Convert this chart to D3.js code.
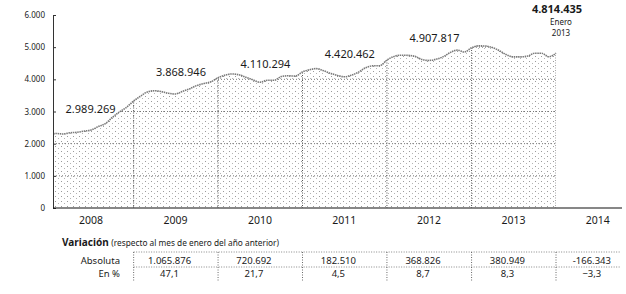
<!DOCTYPE html>
<html>
<head>
<meta charset="utf-8">
<script src="https://cdn.jsdelivr.net/npm/d3@7"></script>
<style>
  body { margin: 0; background: #fff; }
  svg text { font-family: "Noto Sans", sans-serif; fill: #1a1a1a; }
</style>
</head>
<body>
<svg id="plot" width="626" height="294"></svg>
<script>
// paro registrado, enero 2008 - enero 2014 (mensual)
const paro = [
  2261925, 2315331, 2300975, 2338517, 2352942, 2390403, 2426185, 2530001, 2625368, 2818026, 2989269, 3128963,
  3327801, 3481859, 3605402, 3644041, 3620139, 3564889, 3544873, 3629080, 3709447, 3808353, 3868946, 3923603,
  4048493, 4130625, 4166613, 4142425, 4066202, 3982368, 3908221, 3969661, 3972483, 4085976, 4110294, 4100073,
  4231003, 4299263, 4333669, 4269360, 4189659, 4121801, 4079742, 4130927, 4226744, 4360926, 4420462, 4422359,
  4599829, 4712098, 4750867, 4744235, 4714122, 4615269, 4587455, 4625634, 4705279, 4833521, 4907817, 4848723,
  4980778, 5040222, 5035243, 4989193, 4890928, 4763680, 4698814, 4698783, 4724355, 4811383, 4808908, 4701338,
  4814435
];
const years = [2008, 2009, 2010, 2011, 2012, 2013, 2014];
const yTicks = [0, 1000, 2000, 3000, 4000, 5000, 6000];
const labelMonths = [10, 22, 34, 46, 58];   // noviembre de cada año
const varYears = [2009, 2010, 2011, 2012, 2013, 2014];
const varAbs = [1065876, 720692, 182510, 368826, 380949, -166343];
const varPct = [47.1, 21.7, 4.5, 8.7, 8.3, -3.3];

const data = paro.map((v, i) => ({ date: new Date(2008, i, 1), value: v / 1000 }));

const es = d3.formatLocale({ decimal: ",", thousands: ".", grouping: [3], currency: ["", "€"], minus: "-" });
const fmtInt = es.format(",d");
const fmtPct = d3.formatLocale({ decimal: ",", thousands: ".", grouping: [3], currency: ["", "€"], minus: "\u2212" }).format(".1f");

const plot = d3.select('#plot');

const x0 = 53, yBase = 208;

const xScale = d3.scaleTime()
  .domain([new Date(2008, 0, 1), new Date(2014, 0, 1)])
  .range([49, 556]);

const yScale = d3.scaleLinear()
  .domain([0, 6000])
  .range([yBase, 15]);

// dotted fill
const defs = plot.append('defs');
const pat = defs.append('pattern')
  .attr('id', 'dots')
  .attr('patternUnits', 'userSpaceOnUse')
  .attr('width', 6).attr('height', 5);
pat.append('rect').attr('width', 6).attr('height', 5).attr('fill', '#fff');
pat.append('rect').attr('x', 1).attr('y', 1).attr('width', 1).attr('height', 1).attr('fill', '#9a9a9a');
pat.append('rect').attr('x', 4).attr('y', 3).attr('width', 1).attr('height', 1).attr('fill', '#b4b4b4');

const area = d3.area()
  .x(d => xScale(d.date))
  .y0(yBase)
  .y1(d => yScale(d.value))
  .curve(d3.curveMonotoneX);

const line = d3.line()
  .x(d => xScale(d.date))
  .y(d => yScale(d.value))
  .curve(d3.curveMonotoneX);

defs.append('clipPath').attr('id', 'areaClip')
  .append('path')
  .attr('d', area(data));

defs.append('clipPath').attr('id', 'leftClip')
  .append('rect')
  .attr('x', x0).attr('y', 0).attr('width', 626).attr('height', 294);

const chart = plot.append('g').attr('clip-path', 'url(#leftClip)');

chart.append('path')
  .attr('d', area(data))
  .attr('fill', 'url(#dots)');

// grid inside the area
const grid = chart.append('g').attr('clip-path', 'url(#areaClip)');
grid.selectAll('.hgrid')
  .data(yTicks.filter(t => t > 0))
  .join('line')
  .attr('x1', x0).attr('x2', 560)
  .attr('y1', d => yScale(d)).attr('y2', d => yScale(d))
  .attr('stroke', '#555')
  .attr('stroke-width', 0.8)
  .attr('stroke-dasharray', '1,2');

grid.selectAll('.vgrid')
  .data(years.slice(1))
  .join('line')
  .attr('x1', d => xScale(new Date(d, 0, 1)))
  .attr('x2', d => xScale(new Date(d, 0, 1)))
  .attr('y1', 0).attr('y2', yBase)
  .attr('stroke', '#555')
  .attr('stroke-width', 1)
  .attr('stroke-dasharray', '1,1.5');

chart.append('path')
  .attr('d', line(data))
  .attr('fill', 'none')
  .attr('stroke', '#7a7a7a')
  .attr('stroke-width', 1.6)
  .attr('stroke-dasharray', '1.5,0.7');

// axes
const yAxis = d3.axisLeft(yScale)
  .tickValues(yTicks)
  .tickFormat(d => fmtInt(d))
  .tickSizeInner(-3)
  .tickSizeOuter(0)
  .tickPadding(8);

const gy = plot.append('g')
  .attr('transform', `translate(${x0}, 0)`)
  .call(yAxis);
gy.select('.domain').attr('stroke', '#333');
gy.selectAll('.tick line').attr('stroke', '#333');
gy.selectAll('.tick text')
  .style('font-size', '8px')
  .attr('fill', '#1a1a1a');

plot.append('line')
  .attr('x1', x0).attr('x2', 622)
  .attr('y1', yBase).attr('y2', yBase)
  .attr('stroke', '#111')
  .attr('stroke-width', 1.2);

plot.selectAll('.year')
  .data(years)
  .join('text')
  .attr('x', d => xScale(new Date(d, 6, 1)))
  .attr('y', 224)
  .attr('text-anchor', 'middle')
  .style('font-size', '10.5px')
  .text(d => d);

// value labels
plot.selectAll('.vlabel')
  .data(labelMonths.map(i => data[i]))
  .join('text')
  .attr('x', (d, i) => xScale(d.date) + (i === 0 ? -4 : 2))
  .attr('y', (d, i) => i === 0 ? yScale(d.value) + 1 : yScale(d.value) - 8)
  .attr('text-anchor', 'end')
  .style('font-size', '11px')
  .text(d => fmtInt(d.value * 1000));

const last = data[data.length - 1];
const lx = xScale(last.date) + 1;
const ly = yScale(last.value);
plot.append('text')
  .attr('x', lx).attr('y', ly - 40)
  .attr('text-anchor', 'middle')
  .style('font-size', '11px')
  .style('font-weight', 'bold')
  .text(fmtInt(last.value * 1000));
plot.append('text')
  .attr('x', lx + 4).attr('y', ly - 28)
  .attr('text-anchor', 'middle')
  .style('font-size', '8px')
  .text('Enero');
plot.append('text')
  .attr('x', lx + 4).attr('y', ly - 17)
  .attr('text-anchor', 'middle')
  .style('font-size', '8px')
  .text('2013');

// table
const title = plot.append('text')
  .attr('x', 62).attr('y', 246);
title.append('tspan')
  .style('font-size', '10px')
  .style('font-weight', 'bold')
  .text('Variación ');
title.append('tspan')
  .style('font-size', '8.3px')
  .text('(respecto al mes de enero del año anterior)');

const rowAbs = 264, rowPct = 277;
plot.append('text').attr('x', 120).attr('y', rowAbs)
  .attr('text-anchor', 'end').style('font-size', '9.5px').text('Absoluta');
plot.append('text').attr('x', 120).attr('y', rowPct)
  .attr('text-anchor', 'end').style('font-size', '9.5px').text('En %');

const colX = y => xScale(new Date(y, 6, 1)) - 6;

plot.selectAll('.abs')
  .data(varYears)
  .join('text')
  .attr('x', d => colX(d))
  .attr('y', rowAbs)
  .attr('text-anchor', 'middle')
  .style('font-size', '9.5px')
  .text((d, i) => fmtInt(varAbs[i]));

plot.selectAll('.pct')
  .data(varYears)
  .join('text')
  .attr('x', d => colX(d))
  .attr('y', rowPct)
  .attr('text-anchor', 'middle')
  .style('font-size', '9.5px')
  .text((d, i) => fmtPct(varPct[i]));

// table rules
const tLeft = xScale(new Date(2009, 0, 1));
plot.selectAll('.tdiv')
  .data(varYears)
  .join('line')
  .attr('x1', d => xScale(new Date(d, 0, 1)))
  .attr('x2', d => xScale(new Date(d, 0, 1)))
  .attr('y1', 252).attr('y2', 282)
  .attr('stroke', '#444')
  .attr('stroke-width', 0.8)
  .attr('stroke-dasharray', '1,1.5');

[252, 267].forEach(yy => {
  plot.append('line')
    .attr('x1', tLeft).attr('x2', 620)
    .attr('y1', yy).attr('y2', yy)
    .attr('stroke', '#555')
    .attr('stroke-width', 0.7)
    .attr('stroke-dasharray', '1,1.5');
});
</script>
</body>
</html>
